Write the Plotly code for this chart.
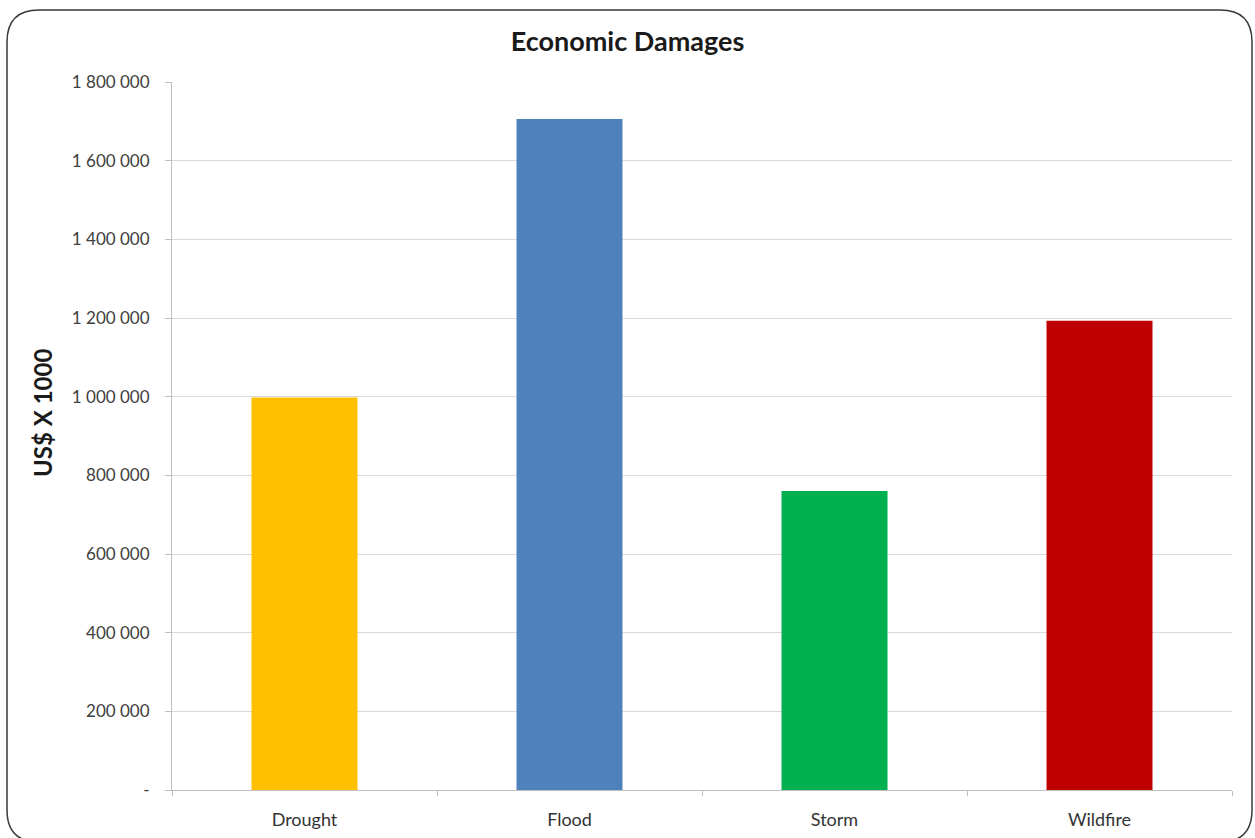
import plotly.graph_objects as go

categories = ["Drought", "Flood", "Storm", "Wildfire"]
values = [998000, 1706000, 760000, 1193000]
colors = ["#FFC000", "#4F81BD", "#00B050", "#C00000"]
tick_vals = [0, 200000, 400000, 600000, 800000, 1000000, 1200000, 1400000, 1600000, 1800000]
tick_text = ["-", "200 000", "400 000", "600 000", "800 000", "1 000 000",
             "1 200 000", "1 400 000", "1 600 000", "1 800 000"]

W, H = 1255, 838
L, R, T, B = 172, 23, 82, 48
PW, PH = W - L - R, H - T - B

def px(x):
    return (x - L) / PW

def py(y):
    return (H - B - y) / PH

fig = go.Figure(go.Bar(
    x=categories, y=values, marker=dict(color=colors, line=dict(width=0)),
    width=0.4, hoverinfo="x+y"))

font_family = "Lato, 'Open Sans', sans-serif"

# rounded frame
x0, x1, y0, y1, r = 7, 1252, 10, 842, 32
path = (f"M {px(x0+r)},{py(y0)} L {px(x1-r)},{py(y0)} Q {px(x1)},{py(y0)} {px(x1)},{py(y0+r)} "
        f"L {px(x1)},{py(y1-r)} Q {px(x1)},{py(y1)} {px(x1-r)},{py(y1)} "
        f"L {px(x0+r)},{py(y1)} Q {px(x0)},{py(y1)} {px(x0)},{py(y1-r)} "
        f"L {px(x0)},{py(y0+r)} Q {px(x0)},{py(y0)} {px(x0+r)},{py(y0)} Z")

fig.update_layout(
    width=W, height=H,
    margin=dict(l=L, r=R, t=T, b=B),
    paper_bgcolor="white", plot_bgcolor="white",
    showlegend=False,
    font=dict(family=font_family, color="#404040", size=17),
    title=dict(text="<b>Economic Damages</b>", x=0.5, xanchor="center",
               y=1 - 42 / H, yanchor="middle",
               font=dict(size=27, color="#1a1a1a", family=font_family)),
    xaxis=dict(type="category", showline=True, linecolor="#BFBFBF", linewidth=1,
               ticks="outside", tickson="boundaries", ticklen=5, tickcolor="#BFBFBF",
               showgrid=False, tickfont=dict(size=18, color="#333333"),
               ticklabelstandoff=13, automargin=False,
               range=[-0.5, 3.5]),
    yaxis=dict(range=[0, 1800000], tickvals=tick_vals, ticktext=tick_text,
               showline=True, linecolor="#BFBFBF", linewidth=1,
               ticks="outside", ticklen=6, tickcolor="#BFBFBF",
               showgrid=True, gridcolor="#D9D9D9", gridwidth=1,
               zeroline=False, ticklabelstandoff=12, automargin=False,
               tickfont=dict(size=17, color="#404040")),
    shapes=[dict(type="path", path=path, xref="paper", yref="paper",
                 line=dict(color="#3a3a3a", width=1.5), fillcolor="rgba(0,0,0,0)",
                 layer="above")],
    annotations=[dict(text="<b>US$ X 1000</b>", xref="paper", yref="paper",
                      x=px(42), y=py(413), textangle=-90, showarrow=False,
                      xanchor="center", yanchor="middle",
                      font=dict(size=24, color="#1a1a1a", family=font_family))],
)

fig.write_html("out.html")
